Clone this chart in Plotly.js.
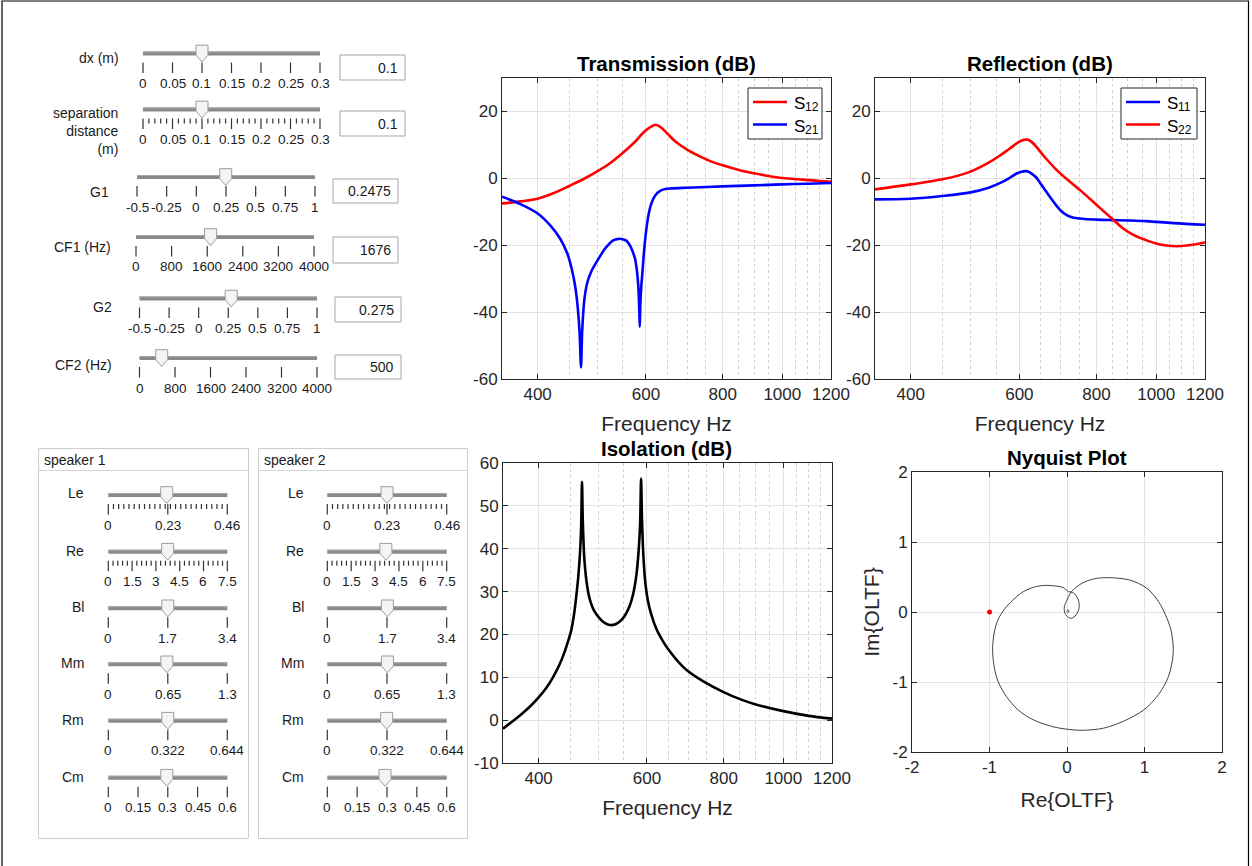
<!DOCTYPE html>
<html>
<head>
<meta charset="utf-8">
<script src="https://cdn.plot.ly/plotly-3.0.1.min.js"></script>
<style>
  html, body { margin: 0; padding: 0; background: #ffffff; }
  #chart { width: 1252px; height: 866px; }
</style>
</head>
<body>
<div id="chart"></div>
<script>
// ---------------- measured responses ----------------
// Transmission, S12 (dB)
const s12Freq = [350, 375, 400, 425, 450, 475, 500, 525, 550, 575, 595, 610, 622, 635, 650, 670, 700, 730, 760, 800, 850, 900, 950, 1000, 1080, 1150, 1200];
const s12Db   = [-7.5, -6.9, -6.1, -4.4, -2.3, -0.2, 2.1, 4.6, 7.6, 10.8, 13.8, 15.3, 16.0, 15.2, 13.4, 11.0, 8.6, 6.8, 5.3, 3.9, 2.5, 1.5, 0.7, 0.1, -0.4, -0.8, -1.0];

// Transmission, S21 (dB)
const s21Freq = [350, 375, 400, 420, 435, 447, 455, 461, 465, 468, 470.5, 472.5, 475, 477, 482, 490, 498, 515, 530, 542, 550, 558, 566, 572, 576, 580, 583, 585, 586.3, 587.5, 589.5, 592, 596, 601, 606, 613, 622, 632, 645, 660, 700, 800, 900, 1000, 1100, 1200];
const s21Db   = [-5.5, -7.7, -10.5, -14.2, -18.0, -22.5, -27.5, -33.0, -39.0, -46.0, -56.5, -46.0, -39.0, -35.5, -31.0, -27.5, -25.2, -21.0, -18.6, -18.1, -18.2, -18.7, -20.3, -22.3, -24.0, -27.5, -32.0, -38.0, -44.4, -38.0, -32.5, -28.5, -21.5, -15.2, -10.8, -7.3, -5.0, -3.8, -3.2, -3.0, -2.8, -2.4, -2.1, -1.8, -1.6, -1.4];

// Reflection, S11 (dB)
const s11Freq = [350, 400, 450, 500, 535, 560, 577, 592, 605, 614, 620, 628, 638, 648, 660, 671, 688, 700, 715, 730, 760, 800, 850, 900, 964, 1066, 1200];
const s11Db   = [-6.3, -6.1, -5.3, -4.2, -2.8, -1.3, 0.0, 1.3, 2.0, 2.15, 2.05, 1.4, 0.4, -1.3, -3.4, -5.3, -8.0, -9.6, -10.9, -11.6, -12.1, -12.35, -12.5, -12.6, -12.8, -13.4, -13.9];

// Reflection, S22 (dB)
const s22Freq = [350, 400, 450, 495, 535, 560, 577, 598, 610, 618, 628, 638, 660, 688, 720, 760, 800, 851, 884, 920, 960, 1000, 1040, 1080, 1120, 1160, 1200];
const s22Db   = [-3.3, -1.8, -0.3, 1.7, 4.7, 7.0, 8.7, 10.8, 11.5, 11.6, 10.9, 9.6, 6.3, 2.7, -0.6, -4.2, -7.9, -12.3, -15.0, -17.0, -18.4, -19.5, -20.1, -20.3, -20.1, -19.7, -19.2];

// Isolation (dB)
const isoFreq = [350, 375, 388, 400, 412, 422, 432, 441, 447, 452, 457, 461, 464, 467, 469, 470.5, 472, 475, 480, 484, 492, 503, 512, 522, 532, 542, 552, 562, 570, 577, 582, 585, 587, 589, 592, 596, 602, 610, 622, 641, 654, 675, 696, 740, 798, 850, 900, 1000, 1100, 1200];
const isoDb   = [-2.0, 1.4, 3.3, 5.3, 7.6, 10.0, 12.8, 16.0, 18.6, 21.0, 25.0, 29.5, 33.5, 39.0, 45.0, 55.6, 46.0, 37.0, 31.0, 28.4, 25.6, 23.7, 22.7, 22.2, 22.3, 23.0, 24.3, 26.5, 29.5, 34.0, 40.0, 46.0, 56.4, 47.0, 38.5, 32.5, 28.0, 24.6, 21.2, 17.8, 16.0, 13.6, 11.7, 9.1, 6.6, 4.9, 3.7, 2.1, 1.0, 0.35];

// Open-loop transfer function, Nyquist locus
const oltfRe = [0.017, -0.05, -0.18, -0.28, -0.41, -0.565, -0.69, -0.80, -0.89, -0.94, -0.96, -0.94, -0.89, -0.78, -0.63, -0.435, -0.177, 0.04, 0.21, 0.47, 0.73, 0.99, 1.18, 1.31, 1.37, 1.35, 1.29, 1.18, 1.03, 0.81, 0.556, 0.38, 0.23, 0.125, 0.047, 0.0, -0.034, -0.026, 0.017, 0.06, 0.116, 0.155, 0.15, 0.10, 0.04, 0.017, null, 0.0, 0.02, 0.025, 0.01, -0.005];
const oltfIm = [0.29, 0.35, 0.375, 0.38, 0.36, 0.29, 0.18, 0.05, -0.11, -0.30, -0.54, -0.78, -0.99, -1.21, -1.40, -1.54, -1.64, -1.68, -1.69, -1.66, -1.56, -1.40, -1.18, -0.92, -0.59, -0.30, -0.09, 0.15, 0.34, 0.456, 0.49, 0.48, 0.43, 0.36, 0.275, 0.17, 0.076, -0.02, -0.076, -0.09, -0.043, 0.052, 0.16, 0.257, 0.29, 0.29, null, 0.03, 0.025, 0.005, -0.005, 0.01];
const criticalRe = [-1];
const criticalIm = [0];

// Legend entries: symbol and subscript
const transLegendSymbol = ['S', 'S'];
const transLegendIndex = ['12', '21'];
const reflLegendSymbol = ['S', 'S'];
const reflLegendIndex = ['11', '22'];

// Axis ticks
const freqTickVals = [400, 600, 800, 1000, 1200];
const freqTickText = ['400', '600', '800', '1000', '1200'];
const freqMinorVals = [450, 500, 550, 650, 700, 750, 850, 900, 950, 1050, 1100, 1150];
const dbTickVals = [-60, -40, -20, 0, 20];
const dbTickText = ['-60', '-40', '-20', '0', '20'];
const isoTickVals = [-10, 0, 10, 20, 30, 40, 50, 60];
const isoTickText = ['-10', '0', '10', '20', '30', '40', '50', '60'];
const nyqTickVals = [-2, -1, 0, 1, 2];
const nyqTickText = ['-2', '-1', '0', '1', '2'];

// ---------------- control panel settings ----------------
const controlNames = ['dx (m)', 'separation<br>distance<br>(m)', 'G1', 'CF1 (Hz)', 'G2', 'CF2 (Hz)'];
const controlMin = [0, 0, -0.5, 0, -0.5, 0];
const controlMax = [0.3, 0.3, 1, 4000, 1, 4000];
const controlValues = [0.1, 0.1, 0.2475, 1676, 0.275, 500];
const controlValueText = ['0.1', '0.1', '0.2475', '1676', '0.275', '500'];
const controlTicks = [
  [0, 0.05, 0.1, 0.15, 0.2, 0.25, 0.3],
  [0, 0.05, 0.1, 0.15, 0.2, 0.25, 0.3],
  [-0.5, -0.25, 0, 0.25, 0.5, 0.75, 1],
  [0, 800, 1600, 2400, 3200, 4000],
  [-0.5, -0.25, 0, 0.25, 0.5, 0.75, 1],
  [0, 800, 1600, 2400, 3200, 4000]
];
const controlTickText = [
  ['0', '0.05', '0.1', '0.15', '0.2', '0.25', '0.3'],
  ['0', '0.05', '0.1', '0.15', '0.2', '0.25', '0.3'],
  ['-0.5', '-0.25', '0', '0.25', '0.5', '0.75', '1'],
  ['0', '800', '1600', '2400', '3200', '4000'],
  ['-0.5', '-0.25', '0', '0.25', '0.5', '0.75', '1'],
  ['0', '800', '1600', '2400', '3200', '4000']
];
const controlMinorStep = [0, 0.01, 0, 0, 0, 0];

const speakerTitles = ['speaker 1', 'speaker 2'];
const speakerParams = ['Le', 'Re', 'Bl', 'Mm', 'Rm', 'Cm'];
const speakerMax = [0.46, 7.5, 3.4, 1.3, 0.644, 0.6];
const speakerTicks = [
  [0, 0.23, 0.46],
  [0, 1.5, 3, 4.5, 6, 7.5],
  [0, 1.7, 3.4],
  [0, 0.65, 1.3],
  [0, 0.322, 0.644],
  [0, 0.15, 0.3, 0.45, 0.6]
];
const speakerTickText = [
  ['0', '0.23', '0.46'],
  ['0', '1.5', '3', '4.5', '6', '7.5'],
  ['0', '1.7', '3.4'],
  ['0', '0.65', '1.3'],
  ['0', '0.322', '0.644'],
  ['0', '0.15', '0.3', '0.45', '0.6']
];
const speakerMinorStep = [0.02, 0.3, 0, 0, 0, 0];
const speaker1Values = [0.226, 3.74, 1.70, 0.64, 0.322, 0.295];
const speaker2Values = [0.23, 3.68, 1.71, 0.655, 0.32, 0.29];

// ---------------- page geometry ----------------
const W = 1252, H = 866;
const FONT = 'Liberation Sans, Arial, Helvetica, sans-serif';
const X = p => p / W;
const Y = p => 1 - p / H;
const RED = '#ff0000', BLUE = '#0000ff';

const shapes = [];
const annotations = [];

function text(px, py, str, size, xanchor, opts, color) {
  annotations.push(Object.assign({
    xref: 'paper', yref: 'paper', x: X(px), y: Y(py), text: str,
    showarrow: false, xanchor: xanchor || 'center', yanchor: 'middle',
    font: { family: FONT, size: size, color: color || '#1a1a1a' }, borderpad: 0
  }, opts || {}));
}

function rect(x0, y0, x1, y1, color, fill, width) {
  shapes.push({ type: 'rect', xref: 'paper', yref: 'paper',
    x0: X(x0), x1: X(x1), y0: Y(y0), y1: Y(y1),
    line: { color: color, width: width || 1 }, fillcolor: fill || 'rgba(0,0,0,0)', layer: 'above' });
}

function line(x0, y0, x1, y1, color, width) {
  shapes.push({ type: 'line', xref: 'paper', yref: 'paper',
    x0: X(x0), x1: X(x1), y0: Y(y0), y1: Y(y1),
    line: { color: color, width: width }, layer: 'above' });
}

// One slider: track, tick marks, tick labels and the thumb.
function slider(g, vmin, vmax, ticks, tickText, minorStep, value, fontSize) {
  const sx = v => g.x0 + (v - vmin) / (vmax - vmin) * (g.x1 - g.x0);
  line(g.x0, g.y, g.x1, g.y, '#8a8a8a', 4);
  line(g.x0, g.y - 1.5, g.x1, g.y - 1.5, '#a6a6a6', 1);
  let path = '';
  ticks.forEach(t => {
    const tx = X(sx(t));
    path += `M ${tx},${Y(g.y + 9)} L ${tx},${Y(g.y + 19.5)} `;
  });
  if (minorStep > 0) {
    const n = Math.round((vmax - vmin) / minorStep);
    for (let k = 1; k < n + 1; k++) {
      const v = vmin + k * minorStep;
      if (v > vmax + 1e-9) break;
      if (ticks.some(t => Math.abs(t - v) < 1e-6)) continue;
      const tx = X(sx(v));
      path += `M ${tx},${Y(g.y + 9)} L ${tx},${Y(g.y + 14)} `;
    }
  }
  shapes.push({ type: 'path', xref: 'paper', yref: 'paper', path: path,
    line: { color: '#333333', width: 1.2 }, layer: 'above' });
  ticks.forEach((t, i) => text(sx(t), g.y + 30, tickText[i], fontSize, 'center'));
  // thumb
  const cx = sx(value);
  const thumb = `M ${X(cx - 6)},${Y(g.y - 8.3)} L ${X(cx + 6)},${Y(g.y - 8.3)} L ${X(cx + 6)},${Y(g.y + 1.7)} ` +
                `L ${X(cx)},${Y(g.y + 8.4)} L ${X(cx - 6)},${Y(g.y + 1.7)} Z`;
  shapes.push({ type: 'path', xref: 'paper', yref: 'paper', path: thumb,
    fillcolor: '#f4f4f4', line: { color: '#9c9c9c', width: 1 }, layer: 'above' });
}

// Upper control block
const controlRows = [
  { x0: 143, x1: 320, y: 53.5, nameX: 120, nameY: 58, box: [340, 405, 55, 80] },
  { x0: 143, x1: 320, y: 109.5, nameX: 120, nameY: 131, box: [340, 405, 111, 136] },
  { x0: 137, x1: 315, y: 177, nameX: 110, nameY: 191.5, box: [333, 398, 179, 203] },
  { x0: 136, x1: 314, y: 237, nameX: 112, nameY: 247, box: [333, 398, 237, 263] },
  { x0: 139.5, x1: 317, y: 298.5, nameX: 113, nameY: 307, box: [335, 401, 297, 322] },
  { x0: 139.5, x1: 317, y: 358, nameX: 113, nameY: 365, box: [335, 401, 355, 379] }
];
controlNames.forEach((name, i) => {
  const g = controlRows[i];
  slider(g, controlMin[i], controlMax[i], controlTicks[i], controlTickText[i], controlMinorStep[i], controlValues[i], 13.5);
  text(g.nameX, g.nameY, name, 14, 'right', { align: 'right' });
  const b = g.box;
  rect(b[0], b[2], b[1], b[3], '#a6a6a6', '#ffffff', 1);
  text(b[1] - 6, (b[2] + b[3]) / 2, controlValueText[i], 14, 'right');
});

// Speaker parameter panels
const panels = [
  { left: 38.5, right: 248.5, x0: 108.3, x1: 227.3, nameX: 85, values: speaker1Values },
  { left: 258.5, right: 467.5, x0: 327.3, x1: 446.7, nameX: 305, values: speaker2Values }
];
const paramTrackY = [495, 551.7, 608.3, 664.3, 720.7, 777.7];
const paramNameY = [493.3, 551, 606.7, 663.3, 720, 777];
panels.forEach((p, k) => {
  rect(p.left, 448.5, p.right, 838.5, '#cdcdcd', 'rgba(0,0,0,0)', 1);
  line(p.left, 470.5, p.right, 470.5, '#d6d6d6', 1);
  text(p.left + 4, 459.5, speakerTitles[k], 14, 'left');
  speakerParams.forEach((name, i) => {
    const g = { x0: p.x0, x1: p.x1, y: paramTrackY[i] };
    slider(g, 0, speakerMax[i], speakerTicks[i], speakerTickText[i], speakerMinorStep[i], p.values[i], 13.5);
    text(p.nameX, paramNameY[i], name, 14, 'right');
  });
});

// Subplot titles
[['Transmission (dB)', 666.5, 64], ['Reflection (dB)', 1040, 64], ['Isolation (dB)', 667, 448], ['Nyquist Plot', 1067, 457]]
  .forEach(t => annotations.push({ xref: 'paper', yref: 'paper', x: X(t[1]), y: Y(t[2]), text: t[0],
    showarrow: false, xanchor: 'center', yanchor: 'middle',
    font: { family: FONT, size: 20.5, color: '#000000', weight: 'bold' } }));

// Boxed legends with line samples and subscripted labels
function legendBox(box, symbols, indices, colors) {
  rect(box.x0, box.y0, box.x1, box.y1, '#262626', '#ffffff', 1);
  symbols.forEach((s, i) => {
    const cy = box.rows[i];
    line(box.x0 + 5, cy, box.x0 + 39, cy, colors[i], 2.6);
    text(box.x0 + 44.5, cy + 1.5, s, 17, 'left', {}, '#000000');
    text(box.x0 + 56, cy + 5, indices[i], 12, 'left', {}, '#000000');
  });
}
legendBox({ x0: 748, x1: 822, y0: 88, y1: 139, rows: [102, 124.5] }, transLegendSymbol, transLegendIndex, [RED, BLUE]);
legendBox({ x0: 1121, x1: 1197, y0: 88, y1: 139, rows: [102, 124.5] }, reflLegendSymbol, reflLegendIndex, [BLUE, RED]);

// Figure frame
rect(2, 1, 1248.5, 872, '#000000', 'rgba(0,0,0,0)', 1.2);

// ---------------- traces ----------------
const traces = [
  { x: s12Freq, y: s12Db, name: 'S12', type: 'scatter', mode: 'lines', xaxis: 'x', yaxis: 'y',
    line: { color: RED, width: 2.6, shape: 'spline', smoothing: 1 } },
  { x: s21Freq, y: s21Db, name: 'S21', type: 'scatter', mode: 'lines', xaxis: 'x', yaxis: 'y',
    line: { color: BLUE, width: 2.6, shape: 'spline', smoothing: 0.8 } },
  { x: s11Freq, y: s11Db, name: 'S11', type: 'scatter', mode: 'lines', xaxis: 'x2', yaxis: 'y2',
    line: { color: BLUE, width: 2.6, shape: 'spline', smoothing: 1 } },
  { x: s22Freq, y: s22Db, name: 'S22', type: 'scatter', mode: 'lines', xaxis: 'x2', yaxis: 'y2',
    line: { color: RED, width: 2.6, shape: 'spline', smoothing: 1 } },
  { x: isoFreq, y: isoDb, name: 'Isolation', type: 'scatter', mode: 'lines', xaxis: 'x3', yaxis: 'y3',
    line: { color: '#000000', width: 2.6, shape: 'spline', smoothing: 0.8 } },
  { x: oltfRe, y: oltfIm, name: 'OLTF', type: 'scatter', mode: 'lines', xaxis: 'x4', yaxis: 'y4',
    line: { color: '#2b2b2b', width: 0.9, shape: 'spline', smoothing: 0.9 }, connectgaps: false },
  { x: criticalRe, y: criticalIm, name: '-1', type: 'scatter', mode: 'markers', xaxis: 'x4', yaxis: 'y4',
    marker: { color: RED, size: 5 } }
];

// ---------------- axes ----------------
const axisBase = {
  showline: true, linecolor: '#262626', linewidth: 1, mirror: 'ticks',
  ticks: 'inside', ticklen: 5, tickwidth: 1, tickcolor: '#262626',
  showgrid: true, gridcolor: '#e3e3e3', gridwidth: 1, zeroline: false,
  tickfont: { family: FONT, size: 17, color: '#262626' }, fixedrange: true
};
function freqAxis(domain, anchor) {
  return Object.assign({}, axisBase, {
    type: 'log', domain: domain, anchor: anchor,
    range: [Math.log10(350), Math.log10(1200)],
    tickmode: 'array', tickvals: freqTickVals, ticktext: freqTickText,
    minor: { tickmode: 'array', tickvals: freqMinorVals, showgrid: true, gridcolor: '#d0d0d0', griddash: 'dot', gridwidth: 1, ticks: '' },
    title: { text: 'Frequency Hz', font: { family: FONT, size: 21, color: '#262626' }, standoff: 12 }
  });
}
function valueAxis(domain, anchor, range, vals, txt) {
  return Object.assign({}, axisBase, {
    domain: domain, anchor: anchor, range: range,
    tickmode: 'array', tickvals: vals, ticktext: txt
  });
}

const layout = {
  width: W, height: H, autosize: false,
  margin: { l: 0, r: 0, t: 0, b: 0, pad: 0 },
  paper_bgcolor: '#ffffff', plot_bgcolor: '#ffffff',
  font: { family: FONT, color: '#262626' },
  showlegend: false,
  xaxis: freqAxis([X(502), X(831)], 'y'),
  yaxis: valueAxis([Y(379), Y(78)], 'x', [-60, 30], dbTickVals, dbTickText),
  xaxis2: freqAxis([X(875), X(1205)], 'y2'),
  yaxis2: valueAxis([Y(379), Y(78)], 'x2', [-60, 30], dbTickVals, dbTickText),
  xaxis3: freqAxis([X(503), X(832)], 'y3'),
  yaxis3: valueAxis([Y(763), Y(463)], 'x3', [-10, 60], isoTickVals, isoTickText),
  xaxis4: Object.assign(valueAxis([X(912), X(1222)], 'y4', [-2, 2], nyqTickVals, nyqTickText), {
    title: { text: 'Re{OLTF}', font: { family: FONT, size: 21, color: '#262626' }, standoff: 15 } }),
  yaxis4: Object.assign(valueAxis([Y(752), Y(472)], 'x4', [-2, 2], nyqTickVals, nyqTickText), {
    title: { text: 'Im{OLTF}', font: { family: FONT, size: 21, color: '#262626' }, standoff: 7 } }),
  shapes: shapes,
  annotations: annotations,
  hovermode: false
};

Plotly.newPlot('chart', traces, layout, { staticPlot: true, displayModeBar: false });
</script>
</body>
</html>
